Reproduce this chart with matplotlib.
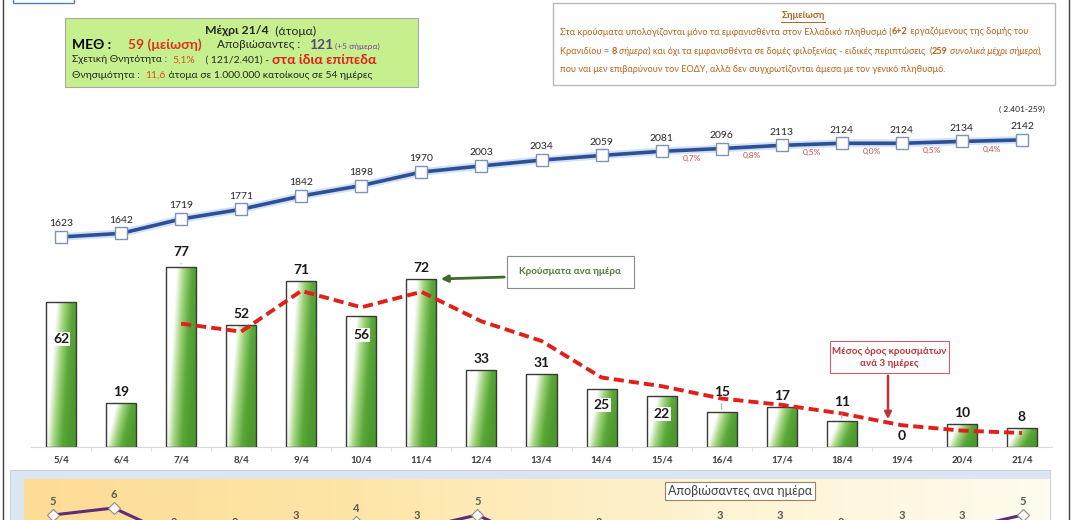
import numpy as np
import matplotlib.pyplot as plt
from matplotlib.colors import LinearSegmentedColormap
from matplotlib.patches import Rectangle

W, H = 1075, 520

dates = ["5/4", "6/4", "7/4", "8/4", "9/4", "10/4", "11/4", "12/4", "13/4",
         "14/4", "15/4", "16/4", "17/4", "18/4", "19/4", "20/4", "21/4"]
cases = [62, 19, 77, 52, 71, 56, 72, 33, 31, 25, 22, 15, 17, 11, 0, 10, 8]
total = [1623, 1642, 1719, 1771, 1842, 1898, 1970, 2003, 2034, 2059, 2081,
         2096, 2113, 2124, 2124, 2134, 2142]
# 3-day average, drawn from 7/4 on
avg3 = [52.7, 49.3, 66.7, 59.7, 66.3, 53.7, 45.3, 29.7, 26.0, 20.7, 18.0,
        14.3, 9.3, 7.0, 6.0]
# daily growth of the total, 15/4->16/4 ... 20/4->21/4
pct = ["0,7%", "0,8%", "0,5%", "0,0%", "0,5%", "0,4%"]
deaths = [5, 6, 2, 2, 3, 4, 3, 5, 1, 2, 1, 3, 3, 2, 3, 3, 5]

plt.rcParams['font.family'] = ['Lato', 'DejaVu Sans']

fig = plt.figure(figsize=(W / 100, H / 100), dpi=100)
fig.patch.set_facecolor('white')


def box(l, t, r, b):
    return [l / W, 1 - b / H, (r - l) / W, (b - t) / H]


# pixel-space background layer
bg = fig.add_axes([0, 0, 1, 1])
bg.set_xlim(0, W)
bg.set_ylim(H, 0)
bg.axis('off')
rend = fig.canvas.get_renderer()


def text_w(s, **props):
    t = bg.text(0, 0, s + '|', **props)
    w1 = t.get_window_extent(rend).width
    t.remove()
    t = bg.text(0, 0, '|', **props)
    w2 = t.get_window_extent(rend).width
    t.remove()
    return w1 - w2


def runs(x, y, parts, **base):
    for s, props in parts:
        p = {**base, **props}
        bg.text(x, y, s, va='center', ha='left', **p)
        x += text_w(s, **p)


# frame lines
bg.plot([3, 3], [0, H], color='#404040', lw=1)
bg.plot([1069, 1069], [0, H], color='#404040', lw=1)
bg.add_patch(Rectangle((13, -5), 61, 8, fc='none', ec='#4f81bd', lw=1))

# green info box
bg.add_patch(Rectangle((65, 18), 353, 69, fc='#c6ef8e', ec='#a8a8a8', lw=0.8))
dark = '#262626'
runs(205, 31, [("Μέχρι 21/4", dict(weight='bold')), ("  (άτομα)", {})],
     fontsize=8.8, color=dark)
bg.text(72, 45, "ΜΕΘ :", fontsize=10, weight='bold', color='black', va='center')
bg.text(128, 45, "59 (μείωση)", fontsize=10, weight='bold', color='#e0301e', va='center')
bg.text(217, 45, "Αποβιώσαντες :", fontsize=8.5, color=dark, va='center')
bg.text(309, 45, "121", fontsize=10, weight='bold', color='#5a4a78', va='center')
bg.text(335, 46, "(+5 σήμερα)", fontsize=6, color='#7a3fa0', va='center')
runs(72, 60, [("Σχετική Θνητότητα :  ", {}),
              ("5,1%", dict(color='#e0501e')),
              ("    ( 121/2.401) - ", {}),
              ("στα ίδια επίπεδα", dict(color='#e0201b', weight='bold', fontsize=10))],
     fontsize=7.5, color=dark)
runs(72, 75, [("Θνησιμότητα :  ", {}), ("11,6", dict(color='#e0501e')),
              (" άτομα σε 1.000.000 κατοίκους σε 54 ημέρες", {})],
     fontsize=7.5, color=dark)

# note box
brown = '#b5651d'
bg.add_patch(Rectangle((553, 3), 502, 82, fc='#fefefe', ec='#b8b8b8', lw=1))
t = bg.text(803, 16, "Σημείωση", fontsize=6.8, weight='bold', color=brown,
            ha='center', va='center')
bb = t.get_window_extent(rend)
bg.plot([bb.x0, bb.x1], [22, 22], color=brown, lw=0.7)
nb = dict(fontsize=6.55, color=brown)
runs(560, 32, [("Στα κρούσματα υπολογίζονται μόνο τα εμφανισθέντα στον Ελλαδικό πληθυσμό (", {}),
               ("6+2", dict(weight='bold')),
               (" εργαζόμενους της δομής του", {})], **nb)
runs(560, 51, [("Κρανιδίου = ", {}), ("8", dict(weight='bold')),
               (" σήμερα", dict(style='italic')),
               (") και όχι τα εμφανισθέντα σε δομές φιλοξενίας - ειδικές περιπτώσεις  (", {}),
               ("259", dict(weight='bold')),
               (" συνολικά μέχρι σήμερα", dict(style='italic')), ("),", {})], **nb)
runs(560, 69, [("που ναι μεν επιβαρύνουν τον ΕΟΔΥ, αλλά δεν συγχρωτίζονται άμεσα με τον γενικό πληθυσμό.", {})], **nb)

# ---- daily cases bars ----
x = np.arange(len(dates))
ax = fig.add_axes(box(31, 90, 1052, 447))
ax.patch.set_alpha(0)
gx, gy = np.meshgrid(np.linspace(0, 1, 64), np.linspace(0, 1, 64))
grad = np.clip(1.3 * gx + 0.45 * (1 - gy) - 0.45, 0, 1)
gcmap = LinearSegmentedColormap.from_list('g', ['white', '#9fd27a', '#5aa83a', '#4c9a2c'])
bars = ax.bar(x, cases, width=0.5, color='none', edgecolor='#3a3a3a', lw=1, zorder=3)
for b in bars:
    if b.get_height() <= 0:
        b.set_visible(False)
        continue
    im = ax.imshow(grad, extent=[b.get_x(), b.get_x() + b.get_width(), 0, b.get_height()],
                   origin='lower', aspect='auto', cmap=gcmap, zorder=2)
    im.set_clip_path(b)

ax.plot(x[2:], avg3, color='#e0201b', lw=2.8, ls=(0, (2.6, 1.3)), zorder=4)

inside = {0: 46, 5: 48, 9: 18, 10: 14}
above = {2: 15, 11: 20, 13: 19}
for i, v in enumerate(cases):
    if i in inside:
        ax.text(i, inside[i], str(v), ha='center', va='center', fontsize=10,
                weight='bold', color='#1a1a1a', zorder=5,
                bbox=dict(fc='white', ec='none', pad=0.8))
    else:
        off = above.get(i, 11) * 0.72
        arrow = dict(arrowstyle='-', color='#a6a6a6', lw=0.7) if i in above else None
        ax.annotate(str(v), (i, v), xytext=(0, off), textcoords='offset points',
                    ha='center', va='center', fontsize=10, weight='bold',
                    color='#1a1a1a', zorder=5, arrowprops=arrow)

ax.set_xlim(-0.5, 16.5)
ax.set_ylim(0, 357 / 2.34)
for s in ['top', 'right', 'left']:
    ax.spines[s].set_visible(False)
ax.spines['bottom'].set_color('#d9d9d9')
ax.set_yticks([])
ax.set_xticks(x)
ax.set_xticklabels(dates, fontsize=7, weight='bold', color='#3a3a3a')
ax.set_xticks(x[:-1] + 0.5, minor=True)
ax.tick_params(axis='x', which='major', length=0, pad=6)
ax.tick_params(axis='x', which='minor', length=3, color='#d9d9d9')

# ---- cumulative cases line ----
ax2 = fig.add_axes(box(31, 90, 1052, 447))
ax2.patch.set_alpha(0)
ax2.axis('off')
ax2.set_xlim(-0.5, 16.5)
ax2.set_ylim(499.4, 2409)
ax2.plot(x, total, color='#b4cdef', lw=5.5, alpha=0.6, solid_capstyle='round')
ax2.plot(x, total, color='#2d4f96', lw=2.6)
ax2.plot(x, total, ls='none', marker='s', ms=9, mfc='white', mec='#7f93b5', mew=1)
for i, v in enumerate(total):
    ax2.annotate(str(v), (i, v), xytext=(0, 9.5), textcoords='offset points',
                 ha='center', va='center', fontsize=7.5, color='#262626')
for k, p in enumerate(pct):
    i = 10 + k
    ax2.annotate(p, (i + 0.5, (total[i] + total[i + 1]) / 2), xytext=(0, -6),
                 textcoords='offset points', ha='center', va='center',
                 fontsize=6, color='#c0504d')

# ---- deaths panel ----
bg.add_patch(Rectangle((10, 470), 1040, 60, fc='#dce6f2', ec='#c5d3e6', lw=0.8))
pan = fig.add_axes(box(24, 479, 1050, 560))
pan.set_xlim(-0.479, 16.45)
pan.set_ylim(-1.43, 10.14)
pan.axis('off')
ycm = LinearSegmentedColormap.from_list('y', ['#fddc95', '#fde6a8', '#fef3d2', '#fffbee'])
pan.imshow(np.linspace(0, 1, 256)[None, :], extent=[-0.479, 16.45, -1.43, 10.14],
           aspect='auto', cmap=ycm, zorder=0)
pan.plot(x, deaths, color='#5c2d7a', lw=2.2, zorder=2)
pan.plot(x, deaths, ls='none', marker='D', ms=6, mfc='white', mec='#8c8c8c',
         mew=0.8, zorder=3)
for i, v in enumerate(deaths):
    pan.annotate(str(v), (i, v), xytext=(0, 10), textcoords='offset points',
                 ha='center', va='center', fontsize=8, weight='bold', color='#595959')

# ---- callouts on top ----
fg = fig.add_axes([0, 0, 1, 1])
fg.set_xlim(0, W)
fg.set_ylim(H, 0)
fg.axis('off')
fg.text(570, 272, "Κρούσματα ανα ημέρα", fontsize=7, weight='bold', color='#4f7a35',
        ha='center', va='center')
fg.add_patch(Rectangle((507, 256), 127, 32, fc='white', ec='#8c8c8c', lw=0.8, zorder=0))
fg.annotate("", (438, 279), (507, 277),
            arrowprops=dict(arrowstyle='-|>', color='#3e6b2a', lw=2, mutation_scale=10))
fg.add_patch(Rectangle((830, 341), 119, 32, fc='white', ec='#d0606a', lw=0.8, zorder=0))
fg.text(889, 351, "Μέσος όρος κρουσμάτων", fontsize=7, weight='bold', color='#c0303a',
        ha='center', va='center')
fg.text(889, 364, "ανά 3 ημέρες", fontsize=7, weight='bold', color='#c0303a',
        ha='center', va='center')
fg.annotate("", (888, 422), (888, 373),
            arrowprops=dict(arrowstyle='-|>', color='#c0303a', lw=1.8, mutation_scale=10))
fg.text(1022, 109, "( 2.401-259)", fontsize=6, color='#262626', ha='center', va='center')
fg.text(740, 491, "Αποβιώσαντες ανα ημέρα", fontsize=9, color='#404040',
        ha='center', va='center',
        bbox=dict(fc='white', ec='#a08060', lw=0.8, boxstyle='square,pad=0.2'))

fig.savefig('out.png', dpi=100)
